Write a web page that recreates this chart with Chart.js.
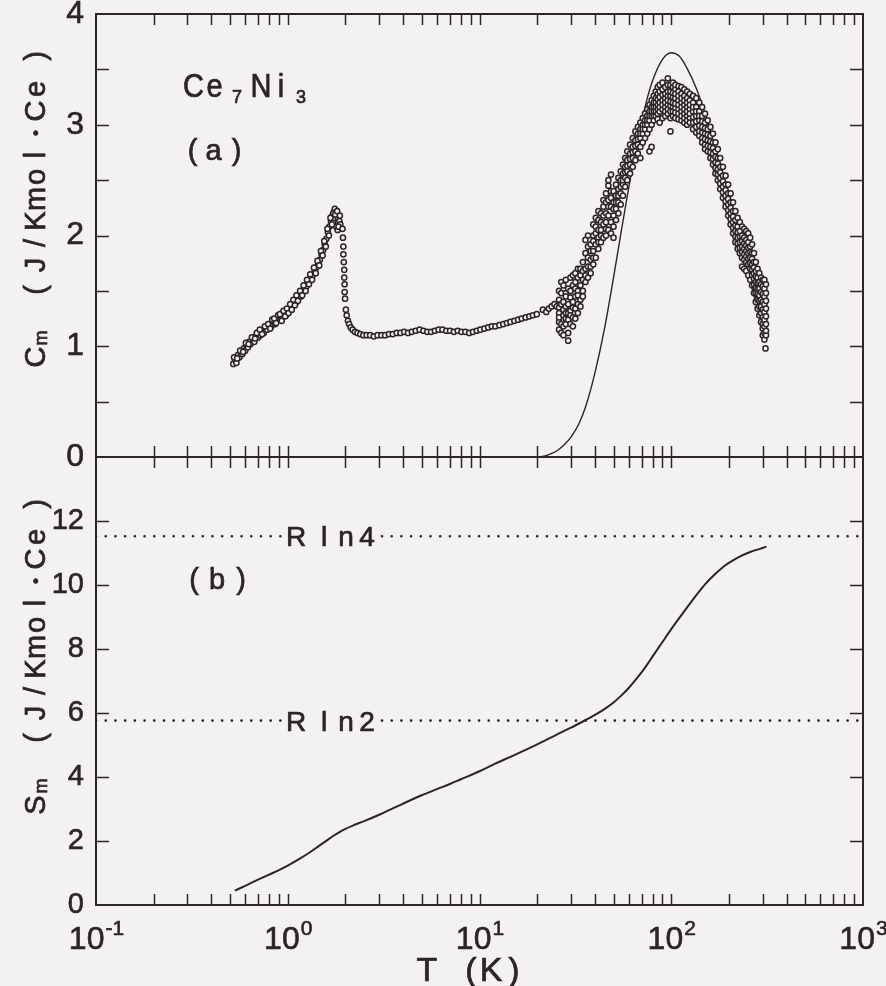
<!DOCTYPE html>
<html>
<head>
<meta charset="utf-8">
<script src="https://cdn.jsdelivr.net/npm/chart.js@4.4.1/dist/chart.umd.min.js"></script>
<style>
  html, body { margin: 0; padding: 0; background: #f3f1f3; }
  #wrap { position: relative; width: 886px; height: 986px; overflow: hidden; background: #f3f1f3; }
  canvas { position: absolute; left: 0; }
  #cmChart { top: 0; }
  #smChart { top: 440px; }
</style>
</head>
<body>
<div id="wrap">
  <canvas id="cmChart" width="886" height="470"></canvas>
  <canvas id="smChart" width="886" height="546"></canvas>
</div>
<script>
// ---- Ce7Ni3 magnetic specific heat Cm (J/K mol Ce) and entropy Sm, T in K ----

// (a) measured Cm: antiferromagnetic ordering peak below 2 K
const orderingPeak = [
  [0.52,0.84],[0.53,0.88],[0.54,0.85],[0.55,0.92],[0.56,0.90],[0.57,0.95],[0.58,0.93],[0.59,0.98],
  [0.60,0.96],[0.61,1.01],[0.62,0.99],[0.63,1.04],[0.64,1.02],[0.66,1.06],[0.67,1.04],[0.68,1.09],
  [0.70,1.08],[0.71,1.12],[0.72,1.10],[0.74,1.14],[0.75,1.12],[0.77,1.17],[0.78,1.15],[0.80,1.19],
  [0.82,1.18],[0.84,1.22],[0.86,1.20],[0.88,1.24],[0.90,1.25],[0.92,1.24],[0.94,1.27],[0.96,1.29],
  [0.98,1.28],[1.00,1.31],[1.02,1.34],[1.04,1.33],[1.06,1.37],[1.08,1.40],[1.10,1.39],[1.12,1.43],
  [1.15,1.46],[1.17,1.45],[1.20,1.50],[1.22,1.52],[1.25,1.54],[1.27,1.57],[1.30,1.59],[1.32,1.62],
  [1.35,1.64],[1.38,1.68],[1.41,1.71],[1.44,1.74],[1.47,1.78],[1.50,1.83],[1.53,1.87],[1.56,1.92],
  [1.59,1.97],[1.62,2.03],[1.65,2.08],[1.68,2.13],[1.71,2.18],[1.72,2.12],[1.74,2.21],[1.75,2.16],
  [1.76,2.24],[1.78,2.21],[1.79,2.08],[1.80,2.18],[1.82,2.05],[1.83,2.16],[1.86,2.13],[1.88,2.10],
  [0.525,0.90],[0.545,0.89],[0.565,0.96],[0.585,0.95],[0.605,1.03],[0.625,1.02],[0.65,1.08],[0.675,1.07],
  [0.69,1.12],[0.715,1.15],[0.735,1.11],[0.76,1.18],[0.79,1.20],[0.81,1.16],[0.83,1.24],[0.85,1.25],
  [0.87,1.21],[0.89,1.28],[0.91,1.29],[0.93,1.23],[0.95,1.32],[0.97,1.27],[0.99,1.34],[1.01,1.30],
  [1.03,1.38],[1.05,1.33],[1.07,1.42],[1.09,1.37],[1.11,1.46],[1.13,1.41],[1.16,1.50],[1.19,1.46],
  [1.21,1.55],[1.24,1.50],[1.26,1.60],[1.29,1.56],[1.31,1.65],[1.34,1.60],[1.37,1.71],[1.40,1.66],
  [1.43,1.77],[1.46,1.73],[1.49,1.86],[1.52,1.82],[1.55,1.95],[1.58,1.90],[1.61,2.06],[1.64,2.00],
  [1.67,2.16],[1.70,2.10],[1.73,2.20],[1.77,2.19],[1.81,2.22],[1.84,2.08],[1.87,2.18]
];

// (a) measured Cm: drop at T_N and the flat region up to 25 K
const plateau = [
  [1.93,2.06],[1.94,1.98],[1.95,1.90],[1.95,1.83],[1.96,1.76],[1.97,1.69],[1.97,1.62],[1.98,1.56],
  [1.98,1.49],[1.99,1.43],[2.01,1.33],[2.03,1.28],[2.06,1.23],[2.09,1.20],[2.13,1.17],[2.18,1.15],
  [2.24,1.13],[2.31,1.12],[2.39,1.11],[2.48,1.10],[2.58,1.10],[2.69,1.10],[2.81,1.09],[2.94,1.10],
  [3.08,1.10],[3.22,1.10],[3.37,1.11],[3.53,1.11],[3.70,1.12],[3.87,1.12],[4.05,1.13],[4.24,1.12],
  [4.44,1.13],[4.65,1.14],[4.87,1.15],[5.10,1.14],[5.34,1.13],[5.59,1.13],[5.85,1.14],[6.12,1.15],
  [6.41,1.15],[6.71,1.14],[7.02,1.14],[7.35,1.13],[7.70,1.14],[8.06,1.13],[8.44,1.13],[8.84,1.12],
  [9.25,1.13],[9.68,1.14],[10.1,1.15],[10.6,1.16],[11.1,1.17],[11.6,1.18],[12.1,1.18],[12.7,1.19],
  [13.3,1.20],[13.9,1.21],[14.5,1.22],[15.2,1.23],[15.9,1.24],[16.6,1.25],[17.4,1.26],[18.2,1.27],
  [19.0,1.28],[19.9,1.29],[21.4,1.33],[22.3,1.31],[23.0,1.34],[23.8,1.36],[24.6,1.38],[25.3,1.36]
];

// (a) measured Cm: crystal-field anomaly, T column -> scattered Cm values
const cefColumns = [
  [26,[1.42,1.30,1.22,1.15,1.35,1.50,1.26]], [26.7,[1.38,1.48,1.20,1.12,1.58]],
  [27.4,[1.55,1.40,1.28,1.18,1.10,1.33]], [28.2,[1.48,1.36,1.25,1.60,1.20,1.45,1.30]],
  [29,[1.12,1.30,1.38,1.52,1.24,1.05]], [29.8,[1.62,1.44,1.32,1.20,1.50,1.28]],
  [30.7,[1.40,1.55,1.26,1.35,1.18,1.64]], [31.6,[1.58,1.45,1.34,1.66,1.25,1.52]],
  [32.6,[1.50,1.62,1.38,1.46,1.30,1.70]], [33.6,[1.70,1.55,1.42,1.64,1.36]],
  [34.6,[1.76,1.60,1.50,1.68,1.45]], [35.7,[1.84,1.70,1.58,1.96,1.64]],
  [36.8,[1.80,1.72,1.62,1.90,2.00]], [38,[1.92,1.78,1.66,1.86,1.72]],
  [39.2,[2.00,1.86,1.74,2.10,1.95,1.80]], [40.4,[2.08,1.92,1.80,2.02,2.16]],
  [41.7,[2.14,1.98,1.88,2.22,2.05,1.94]], [43,[2.20,2.05,1.94,2.12,2.00]],
  [44.3,[2.26,2.10,1.98,2.18,2.32]], [45.7,[2.30,2.12,2.00,2.38,2.20,2.06]],
  [47,[2.45,2.32,2.18,2.05,2.50,2.26]], [48.5,[2.40,2.26,2.12,2.02,2.55,2.34]],
  [50,[2.30,2.18,2.08,2.40,1.98,2.24]], [51.5,[2.36,2.24,2.14,2.46,2.30]],
  [53,[2.42,2.30,2.20,2.52,2.36]], [54.5,[2.50,2.38,2.28,2.58,2.44]],
  [56,[2.56,2.46,2.36,2.64,2.50]], [57.5,[2.62,2.52,2.44,2.70,2.57]],
  [59,[2.68,2.58,2.50,2.76,2.63]], [61,[2.74,2.64,2.56,2.82,2.69]],
  [63,[2.80,2.70,2.62,2.88,2.75]], [65,[2.86,2.76,2.68,2.94,2.81]],
  [67,[2.92,2.82,2.74,2.98,2.87]], [69,[2.96,2.88,2.80,3.02,2.70,2.92]],
  [71,[3.00,2.92,2.84,3.06,2.96]], [73,[3.04,2.96,2.88,3.10,3.00]],
  [75,[3.08,3.00,2.92,3.14,3.04]], [77,[3.12,3.04,2.96,3.18,2.76,3.08]],
  [79,[3.16,3.08,3.00,3.22,2.80,3.12]], [81,[3.20,3.12,3.04,3.26,3.16,3.08]],
  [83,[3.24,3.16,3.08,3.30,3.20,3.12]], [85,[3.28,3.18,3.10,3.34,3.23,3.14,3.05]],
  [87,[3.30,3.20,3.12,3.36,3.02,3.25,3.16]], [90,[3.32,3.22,3.14,3.38,3.06,3.27,3.18]],
  [93,[3.34,3.24,3.16,3.28,3.08,3.20,3.12]], [96,[3.42,3.26,3.18,3.30,3.10,3.22,3.14,3.36]],
  [99,[3.36,3.26,3.17,3.30,2.94,3.21,3.12,3.06]], [102,[3.34,3.25,3.16,3.38,3.08,3.20,3.12,3.29]],
  [105,[3.32,3.24,3.15,3.36,3.06,3.19,3.11,3.28]], [109,[3.30,3.22,3.14,3.35,3.05,3.18,3.10,3.26]],
  [113,[3.28,3.20,3.12,3.34,3.04,3.16,3.08,3.24]], [117,[3.26,3.18,3.10,3.32,3.02,3.14,3.06,3.22]],
  [121,[3.24,3.16,3.08,3.30,3.00,3.12,3.04,3.20]], [125,[3.22,3.14,3.06,3.28,3.18,3.10,3.02]],
  [130,[3.20,3.12,3.02,3.26,2.96,3.16,3.07]], [135,[3.16,3.08,2.98,3.24,3.12,3.03,2.93]],
  [140,[3.12,3.04,2.94,3.20,3.08,2.99,2.90]], [145,[3.08,2.98,2.88,3.16,3.03,2.93,2.84]],
  [150,[3.02,2.92,2.82,3.10,2.97,2.87,2.78]], [155,[2.96,2.86,2.76,3.04,2.91,2.81]],
  [160,[2.90,2.80,2.70,2.98,2.85,2.75]], [165,[2.84,2.74,2.64,2.92,2.79,2.69]],
  [170,[2.76,2.66,2.56,2.84,2.71,2.61]], [175,[2.70,2.60,2.50,2.78,2.65,2.55]],
  [180,[2.62,2.52,2.42,2.70,2.57,2.47]], [186,[2.54,2.44,2.34,2.62,2.49,2.39]],
  [192,[2.46,2.36,2.26,2.54,2.41,2.31]], [198,[2.38,2.28,2.18,2.46,2.33,2.23]],
  [204,[2.30,2.20,2.10,2.38,2.25,2.15]], [210,[2.22,2.12,2.02,2.30,2.17,2.07]],
  [216,[2.14,2.04,1.94,2.22,2.09,1.99]], [222,[2.08,1.98,1.88,2.16,2.03,1.93]],
  [228,[2.04,1.94,1.84,2.12,1.99,1.89]], [234,[2.00,1.90,1.80,2.08,1.72,1.95,1.85]],
  [240,[1.98,1.88,1.78,2.06,1.70,1.93,1.83]], [246,[1.96,1.86,1.76,2.04,1.68,1.91,1.81]],
  [252,[1.94,1.84,1.74,2.02,1.64,1.89,1.79]], [258,[1.90,1.80,1.70,1.98,1.60,1.85,1.75]],
  [264,[1.84,1.74,1.64,1.92,1.55,1.79,1.69]], [270,[1.76,1.66,1.56,1.84,1.48,1.71,1.61]],
  [276,[1.68,1.58,1.48,1.76,1.40,1.63,1.53]], [282,[1.62,1.52,1.42,1.70,1.34,1.57,1.47]],
  [288,[1.58,1.46,1.36,1.66,1.28,1.52,1.41]], [294,[1.56,1.42,1.30,1.62,1.22,1.49,1.36]],
  [300,[1.54,1.40,1.26,1.60,1.16,1.10,1.47,1.33,1.20]],
  [306,[1.52,1.38,1.24,1.60,1.12,1.06,1.45,1.31,1.18]], [310,[0.98]],
  [312,[1.48,1.34,1.20,1.56,1.10,1.41,1.27,1.14]]
];

// (a) calculated Schottky anomaly (solid line)
const schottky = [
  [20.5,0.0],[22,0.01],[24,0.035],[26,0.07],[28,0.12],[30,0.18],[33,0.30],[36,0.47],
  [40,0.76],[45,1.17],[50,1.62],[55,2.05],[60,2.43],[65,2.76],[70,3.02],[75,3.24],
  [80,3.40],[90,3.59],[100,3.65],[110,3.62],[120,3.52],[135,3.33],[150,3.10],[175,2.70],
  [200,2.34],[225,2.00],[250,1.68],[275,1.40],[300,1.15],[310,1.05]
];

// (b) magnetic entropy Sm
const entropy = [
  [0.53,0.45],[0.6,0.6],[0.7,0.79],[0.8,0.95],[0.9,1.09],[1.0,1.23],[1.15,1.44],[1.3,1.64],
  [1.45,1.84],[1.6,2.02],[1.75,2.18],[1.9,2.31],[2.0,2.38],[2.2,2.49],[2.5,2.62],[3.0,2.82],
  [4.0,3.17],[5.0,3.43],[6.0,3.62],[7.0,3.78],[8.0,3.93],[10,4.18],[12,4.41],[15,4.67],
  [20,5.02],[25,5.31],[30,5.54],[35,5.75],[40,5.94],[45,6.13],[50,6.33],[55,6.55],
  [60,6.78],[65,7.03],[70,7.27],[75,7.52],[80,7.77],[90,8.22],[100,8.62],[115,9.12],
  [130,9.55],[150,10.02],[170,10.35],[190,10.60],[210,10.77],[230,10.90],[260,11.04],
  [290,11.13],[314,11.2]
];

// reference entropy levels R ln 2 and R ln 4
const R = 8.314;
const levels = [
  { text: ['R', 'l', 'n', '2'], value: R * Math.log(2) },
  { text: ['R', 'l', 'n', '4'], value: R * Math.log(4) }
];
const levelGap = [0.97, 3.1];   // T range left open for the level labels

const INK = '#2b2428';
const SANS = '"Liberation Sans", Arial, sans-serif';

const pts = arr => arr.map(([x, y]) => ({ x, y }));
const cefPoints = cefColumns.flatMap(([t, cs]) => cs.map(c => ({ x: t, y: c })));

// draw characters centred on given x positions along a common baseline
function drawChars(ctx, chars, xs, baseline, font, sx = 1, dy = []) {
  ctx.font = font;
  ctx.textAlign = 'center';
  ctx.textBaseline = 'alphabetic';
  ctx.fillStyle = INK;
  ctx.strokeStyle = INK;
  ctx.lineWidth = 0.7;
  chars.forEach((c, i) => {
    ctx.save();
    ctx.translate(xs[i], baseline + (dy[i] || 0));
    ctx.scale(sx, 1);
    ctx.fillText(c, 0, 0);
    ctx.strokeText(c, 0, 0);
    ctx.restore();
  });
}

// frame with inward ticks on all four sides
function drawFrame(chart, xTick, yTick) {
  const { ctx, chartArea: a, scales: { x, y } } = chart;
  ctx.save();
  ctx.strokeStyle = INK;
  ctx.lineWidth = 2;
  ctx.strokeRect(a.left, a.top, a.right - a.left, a.bottom - a.top);
  ctx.lineWidth = 1.5;
  ctx.beginPath();
  for (let e = -1; e < 3; e++) {
    for (let m = 1; m <= 9; m++) {
      const v = m * Math.pow(10, e);
      if (v <= x.min * 1.0001 || v >= x.max * 0.9999) continue;
      const px = Math.round(x.getPixelForValue(v)) + 0.5;
      ctx.moveTo(px, a.top); ctx.lineTo(px, a.top + xTick);
      ctx.moveTo(px, a.bottom); ctx.lineTo(px, a.bottom - xTick);
    }
  }
  y.ticks.forEach(t => {
    if (t.value <= y.min || t.value >= y.max) return;
    const py = Math.round(y.getPixelForValue(t.value)) + 0.5;
    ctx.moveTo(a.left, py); ctx.lineTo(a.left + yTick, py);
    ctx.moveTo(a.right, py); ctx.lineTo(a.right - yTick, py);
  });
  ctx.stroke();
  ctx.restore();
}

// rotated y-axis title: main letter, subscript m, then the unit
function drawYTitle(ctx, letter, baseX, anchorY) {
  ctx.save();
  ctx.translate(baseX, anchorY);
  ctx.rotate(-Math.PI / 2);
  drawChars(ctx, [letter], [0], 0, '29px ' + SANS);
  drawChars(ctx, ['m'], [19], 2, '18px ' + SANS);
  drawChars(ctx,
    ['(', 'J', '/', 'K', 'm', 'o', 'l', 'C', 'e', ')'],
    [67, 92, 114, 136, 158, 180, 202, 246, 268, 301],
    0, '29px ' + SANS);
  drawChars(ctx, ['•'], [224], -4, '17px ' + SANS);
  ctx.restore();
}

function fixYAxis(width) {
  return s => { s.width = width; s.paddingTop = 0; s.paddingBottom = 0; };
}

const panelA = {
  id: 'panelA',
  afterDraw(chart) {
    const ctx = chart.ctx;
    drawFrame(chart, 11, 13);
    ctx.save();
    drawChars(ctx, ['C', 'e', 'N', 'i'], [193.5, 214.5, 261, 281], 97, '33px ' + SANS, 0.88);
    drawChars(ctx, ['7', '3'], [237, 301], 103, '18px ' + SANS);
    drawChars(ctx, ['(', 'a', ')'], [192.5, 213.5, 236.5], 160, '29px ' + SANS);
    ctx.restore();
    drawYTitle(ctx, 'C', 45, 357);
  }
};

const panelB = {
  id: 'panelB',
  afterDraw(chart) {
    const { ctx, chartArea: a, scales: { x, y } } = chart;
    drawFrame(chart, 11, 13);
    ctx.save();
    drawChars(ctx, ['(', 'b', ')'], [194, 217, 241], 149, '29px ' + SANS);
    levels.forEach(l => {
      const py = y.getPixelForValue(l.value);
      drawChars(ctx, l.text, [296, 324, 346, 367], py + 10, '28px ' + SANS);
    });
    // decade labels 10^n
    ctx.fillStyle = INK;
    ctx.strokeStyle = INK;
    ctx.lineWidth = 0.6;
    for (let e = -1; e <= 3; e++) {
      const px = x.getPixelForValue(Math.pow(10, e));
      ctx.font = '32px ' + SANS;
      const wBase = ctx.measureText('10').width;
      ctx.font = '21px ' + SANS;
      const exp = String(e);
      const wExp = ctx.measureText(exp).width;
      const left = px - (wBase + wExp) / 2;
      ctx.textAlign = 'left';
      ctx.textBaseline = 'alphabetic';
      ctx.font = '32px ' + SANS;
      ctx.fillText('10', left, a.bottom + 44);
      ctx.strokeText('10', left, a.bottom + 44);
      ctx.font = '21px ' + SANS;
      ctx.fillText(exp, left + wBase + 1, a.bottom + 30);
      ctx.strokeText(exp, left + wBase + 1, a.bottom + 30);
    }
    // x-axis title
    const cx = (a.left + a.right) / 2;
    drawChars(ctx, ['T', '(', 'K', ')'], [cx - 52.5, cx - 8.5, cx + 11.5, cx + 34.5], a.bottom + 76, '34px ' + SANS);
    ctx.restore();
    drawYTitle(ctx, 'S', 45, 805 - 440);
  }
};

Chart.defaults.color = INK;

new Chart(document.getElementById('cmChart'), {
  type: 'scatter',
  data: {
    datasets: [
      {
        label: 'Cm measured',
        data: [...pts(orderingPeak), ...pts(plateau), ...cefPoints],
        showLine: false,
        pointRadius: 2.6,
        pointBorderWidth: 1.5,
        pointBorderColor: INK,
        pointBackgroundColor: '#f2f0f2'
      },
      {
        label: 'Schottky',
        type: 'line',
        data: pts(schottky),
        borderColor: INK,
        borderWidth: 1.4,
        pointRadius: 0,
        cubicInterpolationMode: 'monotone'
      }
    ]
  },
  options: {
    responsive: false,
    animation: false,
    devicePixelRatio: 1,
    layout: { padding: { top: 14, right: 23, bottom: 0, left: 0 } },
    plugins: { legend: { display: false }, tooltip: { enabled: false } },
    scales: {
      x: {
        type: 'logarithmic', min: 0.1, max: 1000,
        ticks: { display: false }, grid: { display: false }, border: { display: false },
        afterFit: s => { s.height = 13; }
      },
      y: {
        min: 0, max: 4,
        ticks: {
          stepSize: 0.5, padding: 12, color: INK,
          textStrokeColor: INK, textStrokeWidth: 0.6,
          font: { family: SANS, size: 32 },
          callback: v => (Number.isInteger(v) ? String(v) : '')
        },
        grid: { display: false, drawTicks: false }, border: { display: false },
        afterFit: fixYAxis(96)
      }
    }
  },
  plugins: [panelA]
});

const levelSets = levels.flatMap(l => [
  [{ x: 0.1, y: l.value }, { x: levelGap[0], y: l.value }],
  [{ x: levelGap[1], y: l.value }, { x: 1000, y: l.value }]
]).map(seg => ({
  type: 'line', data: seg, borderColor: INK, borderWidth: 2.6,
  borderDash: [0.1, 9.6], borderCapStyle: 'round', pointRadius: 0
}));

new Chart(document.getElementById('smChart'), {
  type: 'line',
  data: {
    datasets: [
      {
        label: 'Sm',
        data: pts(entropy),
        borderColor: INK,
        borderWidth: 2,
        pointRadius: 0,
        cubicInterpolationMode: 'monotone'
      },
      ...levelSets
    ]
  },
  options: {
    responsive: false,
    animation: false,
    devicePixelRatio: 1,
    layout: { padding: { top: 17, right: 23, bottom: 0, left: 0 } },
    plugins: { legend: { display: false }, tooltip: { enabled: false } },
    scales: {
      x: {
        type: 'logarithmic', min: 0.1, max: 1000,
        ticks: { display: false }, grid: { display: false }, border: { display: false },
        afterFit: s => { s.height = 81; }
      },
      y: {
        min: 0, max: 14,
        ticks: {
          stepSize: 2, padding: 12, color: INK,
          textStrokeColor: INK, textStrokeWidth: 0.6,
          font: { family: SANS, size: 29 },
          callback: v => (v === 14 ? '' : String(v))
        },
        grid: { display: false, drawTicks: false }, border: { display: false },
        afterFit: fixYAxis(96)
      }
    }
  },
  plugins: [panelB]
});
</script>
</body>
</html>
